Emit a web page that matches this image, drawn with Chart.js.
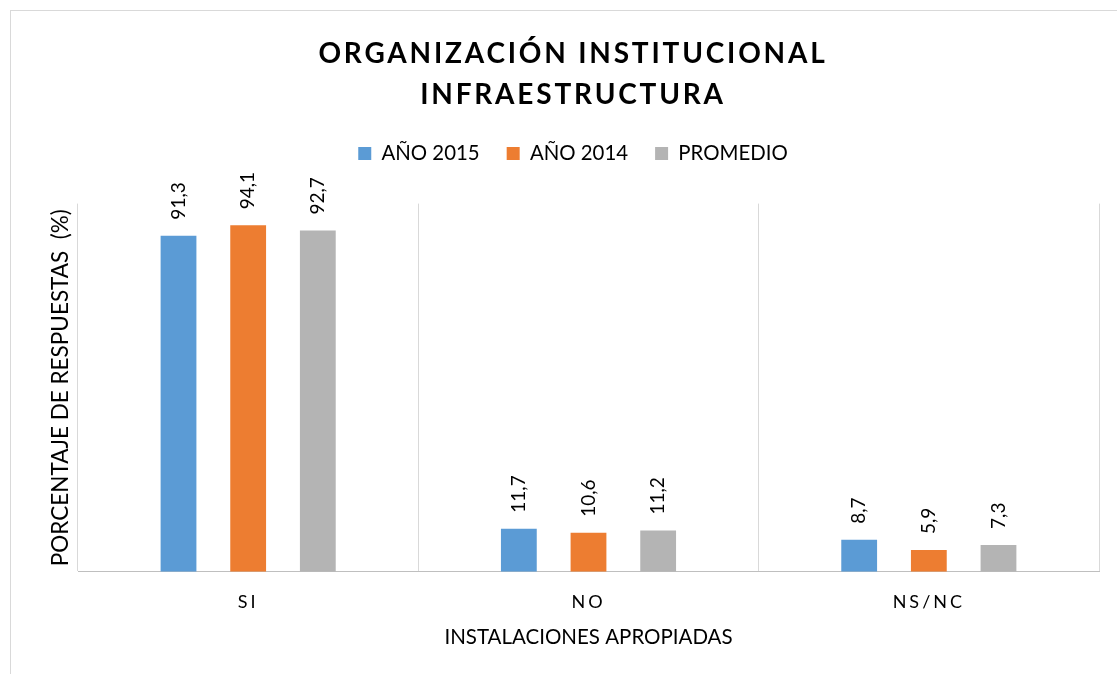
<!DOCTYPE html>
<html>
<head>
<meta charset="utf-8">
<script src="https://cdn.jsdelivr.net/npm/chart.js@4/dist/chart.umd.min.js"></script>
<style>
  html, body { margin: 0; padding: 0; background: #fff; }
  #frame { position: absolute; left: 10px; top: 10px; width: 1120px; height: 680px; border: 1px solid #d9d9d9; }
  #wrap { position: absolute; left: 0; top: 0; width: 1117px; height: 674px; }
</style>
</head>
<body>
<div id="frame"></div>
<div id="wrap"><canvas id="chart"></canvas></div>
<script>
// datos
const categories = ['SI', 'NO', 'NS/NC'];
const seriesNames = ['AÑO 2015', 'AÑO 2014', 'PROMEDIO'];
const values2015 = [91.3, 11.7, 8.7];
const values2014 = [94.1, 10.6, 5.9];
const valuesAvg = [92.7, 11.2, 7.3];
const colors = ['#5B9BD5', '#ED7D31', '#B4B4B4'];

const FONT = 'Lato, "Open Sans", sans-serif';

// etiquetas de valor giradas sobre cada barra
const valueLabels = {
    id: 'valueLabels',
    afterDatasetsDraw(chart) {
        const ctx = chart.ctx;
        ctx.save();
        ctx.font = '19px ' + FONT;
        ctx.fillStyle = '#000';
        ctx.textAlign = 'left';
        ctx.textBaseline = 'middle';
        chart.data.datasets.forEach((ds, i) => {
            chart.getDatasetMeta(i).data.forEach((bar, j) => {
                const txt = ds.data[j].toFixed(1).replace('.', ',');
                ctx.save();
                ctx.translate(bar.x, bar.y - 16);
                ctx.rotate(-Math.PI / 2);
                ctx.fillText(txt, 0, 0);
                ctx.restore();
            });
        });
        ctx.restore();
    }
};

// espaciado de letras en titulo y etiquetas del eje x, y hueco bajo la leyenda
const tweaks = {
    id: 'tweaks',
    beforeLayout(chart) {
        const lg = chart.legend;
        if (lg && !lg._extra) {
            const fit = lg.fit.bind(lg);
            lg.fit = function () { fit(); this.height += 30; };
            lg._extra = true;
        }
    },
    beforeDraw(chart) {
        const wrap = (obj, fn, sp) => {
            if (!obj || obj['_sp_' + fn]) return;
            const orig = obj[fn].bind(obj);
            obj[fn] = function (...args) {
                const c = chart.ctx;
                const prev = c.letterSpacing;
                c.letterSpacing = sp;
                orig(...args);
                c.letterSpacing = prev || '0px';
            };
            obj['_sp_' + fn] = true;
        };
        wrap(chart.titleBlock, 'draw', '2.8px');
        wrap(chart.scales.x, 'drawLabels', '3px');
    }
};

new Chart(document.getElementById('chart'), {
    type: 'bar',
    data: {
        labels: categories,
        datasets: [
            { label: seriesNames[0], data: values2015, backgroundColor: colors[0] },
            { label: seriesNames[1], data: values2014, backgroundColor: colors[1] },
            { label: seriesNames[2], data: valuesAvg, backgroundColor: colors[2] }
        ]
    },
    options: {
        responsive: true,
        maintainAspectRatio: false,
        animation: false,
        datasets: { bar: { categoryPercentage: 0.614, barPercentage: 0.514 } },
        layout: { padding: { left: 47, right: 18, top: 34, bottom: 24 } },
        plugins: {
            title: {
                display: true,
                text: ['ORGANIZACIÓN INSTITUCIONAL', 'INFRAESTRUCTURA'],
                color: '#000',
                font: { family: FONT, size: 28, weight: 'bold', lineHeight: 1.45 },
                padding: { top: 0, bottom: 1 }
            },
            legend: {
                position: 'top',
                labels: {
                    color: '#000',
                    font: { family: FONT, size: 20.4 },
                    boxWidth: 13,
                    boxHeight: 13,
                    padding: 27
                }
            },
            tooltip: { enabled: false }
        },
        scales: {
            x: {
                grid: { color: '#d9d9d9', lineWidth: 1, drawTicks: false },
                border: { color: '#bfbfbf', width: 1 },
                ticks: { color: '#000', font: { family: FONT, size: 18 }, padding: 20 },
                title: {
                    display: true,
                    text: 'INSTALACIONES APROPIADAS',
                    color: '#000',
                    font: { family: FONT, size: 20.5 },
                    padding: { top: -8, bottom: 0 }
                }
            },
            y: {
                min: 0,
                max: 100,
                grid: { display: false },
                border: { display: false },
                ticks: { display: false },
                title: {
                    display: true,
                    text: 'PORCENTAJE DE RESPUESTAS  (%)',
                    color: '#000',
                    font: { family: FONT, size: 22.5 },
                    padding: { top: 0, bottom: -4 }
                }
            }
        }
    },
    plugins: [valueLabels, tweaks]
});
</script>
</body>
</html>
